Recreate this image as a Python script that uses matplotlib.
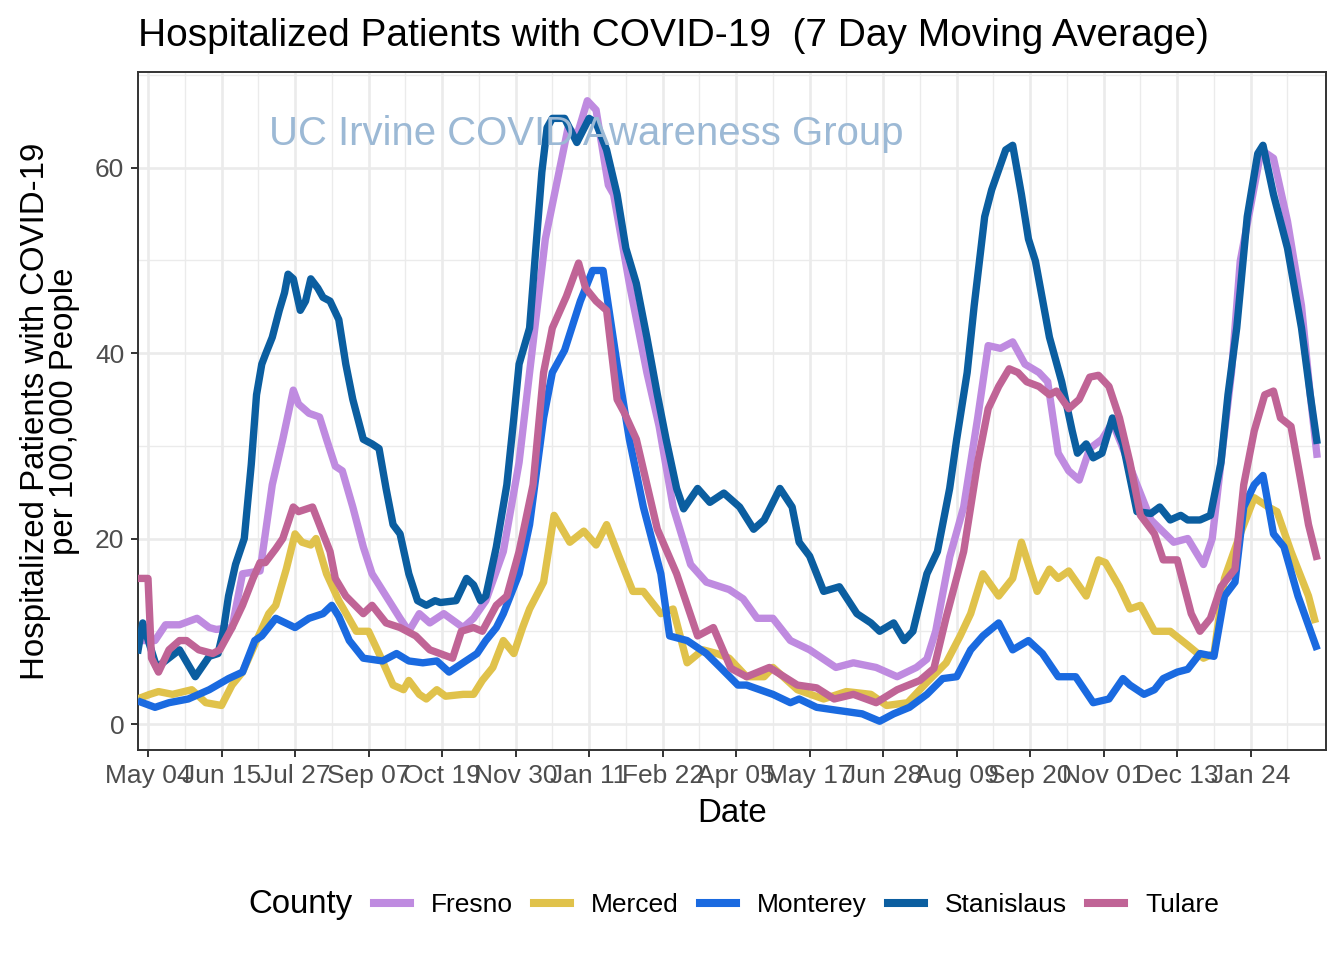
import numpy as np
import matplotlib
matplotlib.use('Agg')
import matplotlib.pyplot as plt
import matplotlib.dates as mdates
from matplotlib.lines import Line2D

plt.rcParams['font.family'] = ['Liberation Sans', 'DejaVu Sans']

# day offsets are counted from 2020-05-04
start = np.datetime64('2020-05-04')

fresno_day = [-6, 4, 10, 18, 28, 35, 39, 48, 54, 64, 71, 77, 83, 86, 92, 98, 102,
              107, 111, 117, 123, 128, 136, 144, 149, 155, 161, 169, 180, 186, 193, 203, 212, 218,
              227, 240, 245, 251, 256, 263, 266, 275, 285, 292, 300, 310, 319, 332,
              340, 348, 357, 367, 378, 393, 403, 416, 428, 439, 445, 450, 454, 458,
              466, 474, 480, 487, 494, 501, 509, 514, 520, 526, 532, 538, 545, 551, 556,
              565, 573, 586, 594, 603, 608, 613, 619, 624, 636, 643, 651, 659, 664, 668]
fresno_val = [9, 9, 10.7, 10.7, 11.4, 10.4, 10.2, 10.4, 16.2, 16.5, 25.8, 30.7, 36, 34.5, 33.5, 33.1, 30.7,
              27.8, 27.3, 23.4, 19.1, 16.2, 13.8, 11.4, 10, 11.9, 10.9, 11.9, 10.4, 11.4, 13.3, 18.6, 28.2, 37.9,
              52.3, 64.3, 63.4, 67.2, 66.2, 58.1, 57.1, 47.5, 37.9, 32.1, 23.4, 17.2, 15.3, 14.5,
              13.5, 11.4, 11.4, 9, 8, 6.1, 6.6, 6.1, 5.1, 6.1, 7, 10, 14, 18,
              23.4, 33, 40.8, 40.5, 41.2, 38.8, 37.9, 36.9, 29.2, 27.3, 26.3, 29.7, 30.7, 32.5, 30.2,
              25.8, 22, 19.6, 20, 17.2, 20, 28.2, 37.9, 49.9, 61.9, 61, 54.2, 45.1, 35.5, 28.7]

merced_day = [-6, 1, 6, 14, 25, 33, 42, 48, 54, 62, 69, 73, 79, 84, 88, 93, 96, 102,
              109, 119, 126, 132, 140, 146, 149, 155, 159, 165, 170, 180, 186, 191, 197, 203, 209, 214, 218,
              226, 232, 241, 249, 256, 262, 269, 277, 283, 293, 300, 308, 317, 325,
              332, 342, 352, 357, 371, 386, 399, 413, 422, 434, 445, 456,
              464, 470, 477, 486, 494, 499, 508, 515, 520, 526, 536, 543, 547, 555,
              561, 567, 575, 584, 594, 603, 609, 615, 624, 632, 640, 645, 653, 663, 667]
merced_val = [2.7, 3.2, 3.5, 3.2, 3.7, 2.3, 2, 4.2, 5.6, 9, 11.9, 12.8, 16.7, 20.5, 19.6, 19.3, 20, 16.2,
              13.3, 10, 10, 7.6, 4.2, 3.7, 4.7, 3.2, 2.7, 3.7, 3, 3.2, 3.2, 4.7, 6.1, 9, 7.6, 10.4, 12.4,
              15.3, 22.5, 19.6, 20.8, 19.3, 21.5, 18.1, 14.3, 14.3, 11.9, 12.4, 6.6, 8, 7.6,
              7.1, 5.1, 5.1, 6.1, 3.7, 2.7, 3.5, 3.2, 2, 2.3, 4.5, 6.6,
              9.5, 11.9, 16.2, 13.8, 15.7, 19.6, 14.3, 16.7, 15.7, 16.5, 13.8, 17.7, 17.4, 14.8,
              12.4, 12.8, 10, 10, 8.5, 7.1, 7.6, 15.7, 20.5, 24.4, 23.4, 22.9, 18.6, 13.8, 10.9]

monterey_day = [-6, 4, 12, 23, 35, 46, 54, 61, 65, 73, 84, 92, 100, 105, 109,
                115, 123, 134, 142, 149, 157, 165, 172, 180, 188, 193, 199, 203, 212, 218,
                226, 231, 238, 247, 254, 260, 268, 275, 283, 293, 298, 308, 319, 327, 337,
                342, 357, 367, 372, 382, 393, 408, 418, 426, 435, 445, 454,
                462, 470, 477, 486, 494, 503, 511, 520, 530, 540, 549, 557,
                561, 569, 575, 580, 588, 594, 601, 609, 615, 621, 626, 632, 637, 643, 649, 657, 668]
monterey_val = [2.5, 1.8, 2.3, 2.7, 3.7, 4.9, 5.6, 9, 9.5, 11.4, 10.4, 11.4, 11.9, 12.8, 11.6,
                9, 7.1, 6.8, 7.6, 6.8, 6.6, 6.8, 5.6, 6.6, 7.6, 9, 10.4, 11.9, 16.2, 21.5,
                33, 37.9, 40.3, 45.6, 48.9, 48.9, 38.8, 30.7, 23.4, 16.2, 9.5, 9, 7.6, 6.1, 4.2,
                4.2, 3.2, 2.3, 2.7, 1.8, 1.5, 1.1, 0.3, 1.1, 1.8, 3.2, 4.9,
                5.1, 8, 9.5, 10.9, 8, 9, 7.6, 5.1, 5.1, 2.3, 2.7, 4.9,
                4.2, 3.2, 3.7, 4.9, 5.6, 5.9, 7.6, 7.3, 13.8, 15.3, 23.4, 25.8, 26.8, 20.5, 19.1, 13.8, 8]

stanislaus_day = [-6, -3, 5, 18, 27, 35, 40, 43, 46, 50, 55, 59, 62, 65, 67, 71, 75, 78, 80, 83, 87, 90, 93, 97, 100,
                  104, 109, 113, 117, 123, 128, 132, 136, 140, 144, 149, 154, 159, 164, 167, 176, 182, 186, 190,
                  193, 199, 205, 209, 212, 218, 222, 225, 228,
                  231, 238, 245, 252, 256, 262, 268, 273, 279, 285, 291, 296, 302, 306, 314, 321, 329,
                  338, 346, 352, 361, 368, 372, 378, 386, 395, 405, 413, 418, 426, 432, 437, 445,
                  451, 458, 462, 468, 472, 478, 482, 490, 494, 499, 503, 507, 515, 522, 528, 531, 536, 540, 545,
                  551, 557, 565, 573, 578, 584, 590, 594, 601, 607, 613, 617, 622, 628, 634, 637, 643, 651,
                  659, 664, 668]
stanislaus_val = [7.6, 10.9, 6.1, 8, 5.1, 7.3, 7.6, 10, 13.8, 17.2, 20, 28, 35.5, 38.8, 39.8, 41.7, 44.6, 46.5,
                  48.5, 48, 44.6, 45.6, 48, 47, 46,
                  45.6, 43.6, 38.8, 35, 30.7, 30.2, 29.7, 25.4, 21.5, 20.5, 16.2, 13.3, 12.8, 13.3, 13.1, 13.3,
                  15.7, 15, 13.3, 13.8, 19.1, 25.8, 33, 38.8, 42.7, 52.3, 59.5, 64.3,
                  65.3, 65.3, 62.7, 65.3, 64.8, 61.9, 57.1, 51.3, 47.5, 41.7, 35.5, 30.7, 25.4, 23.2, 25.4, 23.9,
                  24.9, 23.4, 21, 22, 25.4, 23.4, 19.6, 18.1, 14.3, 14.8, 11.9, 10.9, 10, 10.9, 9, 10, 16.2,
                  18.6, 25.4, 30.7, 37.9, 45.1, 54.7, 57.6, 61.9, 62.4, 57.1, 52.3, 49.9, 41.7, 36.9, 31.6,
                  29.2, 30.2, 28.7, 29.2, 33, 30.2, 22.9, 22.7, 23.4, 22, 22.5, 22, 22, 22.5, 28.2, 35.5, 42.7,
                  54.7, 61.5, 62.4, 57.1, 51.3, 42.7, 35.5, 30.2]

tulare_day = [-6, 0, 2, 6, 12, 18, 22, 29, 37, 41, 48, 54, 60, 64, 67, 73, 77, 83, 86, 94, 100,
              104, 107, 113, 123, 128, 136, 144, 153, 161, 174, 179, 186, 191, 199, 205, 212, 220,
              226, 231, 239, 246, 250, 256, 262, 268, 272, 279, 291, 302, 314, 323, 333, 342,
              355, 371, 382, 392, 403, 416, 428, 441, 449, 456,
              466, 474, 480, 486, 492, 497, 502, 509, 515, 519, 526, 532, 538, 543, 549, 555,
              561, 567, 575, 580, 588, 596, 601, 607, 613, 621, 626, 632, 638, 643, 647, 653, 659, 663, 668]
tulare_val = [15.7, 15.7, 7.1, 5.6, 8, 9, 9, 8, 7.6, 8, 10.4, 12.8, 15.7, 17.4, 17.4, 18.9, 20, 23.4, 22.9,
              23.4, 20.5,
              18.6, 15.7, 13.8, 11.9, 12.8, 10.9, 10.4, 9.5, 8, 7.1, 10, 10.4, 10, 12.8, 13.8, 18.6, 25.8,
              37.9, 42.7, 46.1, 49.7, 47, 45.6, 44.6, 35, 33.6, 30.7, 21, 16.2, 9.5, 10.4, 6, 5.1,
              6.1, 4.2, 3.9, 2.7, 3.2, 2.3, 3.7, 4.7, 6, 11.5,
              18.6, 28.2, 34, 36.4, 38.3, 37.9, 36.9, 36.4, 35.5, 35.9, 34, 35, 37.4, 37.6, 36.4, 33,
              28.2, 22.5, 20.5, 17.7, 17.7, 11.9, 10, 11.4, 14.8, 16.7, 25.8, 31.6, 35.5, 35.9, 33, 32.1,
              25.8, 21.5, 17.7]

counties = ['Fresno', 'Merced', 'Monterey', 'Stanislaus', 'Tulare']
days = [fresno_day, merced_day, monterey_day, stanislaus_day, tulare_day]
values = [fresno_val, merced_val, monterey_val, stanislaus_val, tulare_val]
colors = ['#BF8BE0', '#E0C24B', '#1A6AE0', '#0B5EA0', '#C06496']

tick_days = np.arange(0, 631, 42)
minor_days = np.arange(-21, 673, 42)


def to_num(d):
    return mdates.date2num(start + np.array(d).astype('timedelta64[D]'))


fig = plt.figure(figsize=(13.44, 9.6), dpi=100)
ax = fig.add_axes([137.5 / 1344, 1 - 750 / 960, (1326 - 137.5) / 1344, (750 - 72) / 960])

# grid
for y in [0, 20, 40, 60]:
    ax.axhline(y, color='#EBEBEB', lw=1.9, zorder=0)
for y in [10, 30, 50, 70]:
    ax.axhline(y, color='#EBEBEB', lw=1.0, zorder=0)
for d in tick_days:
    ax.axvline(to_num(d), color='#EBEBEB', lw=1.9, zorder=0)
for d in minor_days:
    ax.axvline(to_num(d), color='#EBEBEB', lw=1.0, zorder=0)

for i, name in enumerate(counties):
    ax.plot(to_num(days[i]), values[i], color=colors[i], lw=5.3, solid_joinstyle='round',
            solid_capstyle='butt', zorder=2 + i)

ax.text(0.3774, 0.908, 'UC Irvine COVID Awareness Group', transform=ax.transAxes, ha='center',
        va='center', fontsize=28.9, color='#9CB9D5', zorder=10)

ax.set_xlim(to_num(-6.6), to_num(673.5))
ax.set_ylim(-2.8, 70.3)
ax.set_xticks(to_num(tick_days))
ax.xaxis.set_major_formatter(mdates.DateFormatter('%b %d'))
ax.set_yticks([0, 20, 40, 60])
ax.tick_params(axis='both', labelsize=19, labelcolor='#4D4D4D', color='#333333',
               length=5, width=1.4)
ax.tick_params(axis='y', pad=4.5)
ax.tick_params(axis='x', pad=5)
for s in ax.spines.values():
    s.set_color('#333333')
    s.set_linewidth(1.4)

fig.text(138 / 1344, 1 - 36 / 960, 'Hospitalized Patients with COVID-19  (7 Day Moving Average)',
         fontsize=28, ha='left', va='center')
fig.text(731.75 / 1344, 1 - 813 / 960, 'Date', fontsize=23.8, ha='center', va='center')
fig.text(50 / 1344, 1 - 411 / 960, 'Hospitalized Patients with COVID-19\nper 100,000 People',
         fontsize=23.8, rotation=90, ha='center', va='center', multialignment='center',
         linespacing=0.95)

# legend
fig.text(248 / 1344, 1 - 905 / 960, 'County', fontsize=23.8, ha='left', va='center')
handles = [Line2D([0], [0], color=c, lw=5.8) for c in colors]
fig.legend(handles, counties, loc='center left', bbox_to_anchor=(361 / 1344, 1 - 905 / 960),
           ncol=5, frameon=False, fontsize=19, handlelength=1.36, handletextpad=0.8,
           columnspacing=0.8, borderpad=0.0)

fig.savefig('out.png', dpi=100)
